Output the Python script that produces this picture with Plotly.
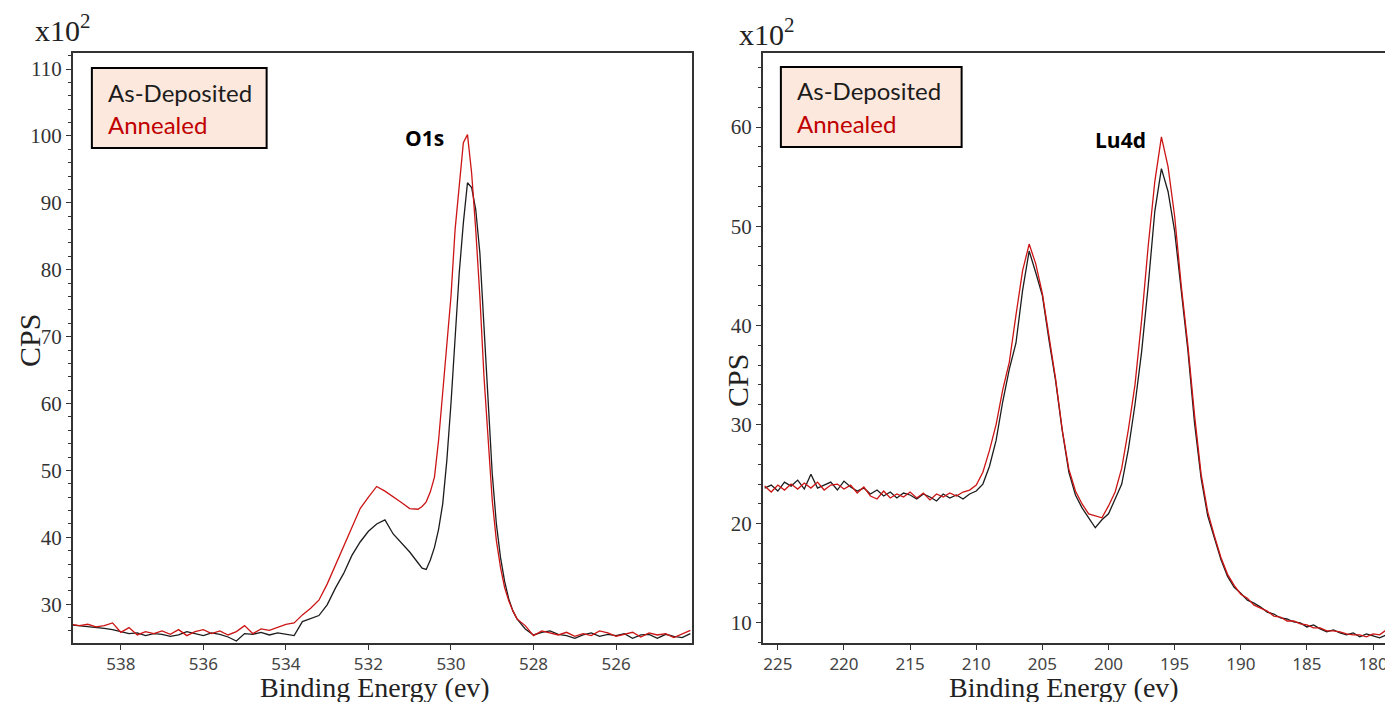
import plotly.graph_objects as go
from plotly.subplots import make_subplots

# the page body keeps an 8px margin, so the figure is a bit smaller than the window
OFF = 8
W, H = 1393 - OFF, 702 - OFF

# O1s region (binding energy, eV) and counts (x10^2 CPS)
o1s_be = [539.2, 539.0, 538.8, 538.6, 538.4, 538.2, 538.0, 537.8, 537.6, 537.4,
          537.2, 537.0, 536.8, 536.6, 536.4, 536.2, 536.0, 535.8, 535.6, 535.4,
          535.2, 535.0, 534.8, 534.6, 534.4, 534.2, 534.0, 533.8, 533.6, 533.4,
          533.2, 533.0, 532.8, 532.6, 532.4, 532.2, 532.0, 531.8, 531.6, 531.4,
          531.2, 531.0, 530.8, 530.7, 530.6, 530.5, 530.4, 530.3, 530.2, 530.1,
          530.0, 529.9, 529.8, 529.7, 529.6, 529.5, 529.4, 529.3, 529.2, 529.1,
          529.0, 528.9, 528.8, 528.7, 528.6, 528.5, 528.4, 528.2, 528.0, 527.8,
          527.6, 527.4, 527.2, 527.0, 526.8, 526.6, 526.4, 526.2, 526.0, 525.8,
          525.6, 525.4, 525.2, 525.0, 524.8, 524.6, 524.4, 524.2]

o1s_asdep = [26.9, 26.8, 26.7, 26.5, 26.4, 26.2, 25.9, 25.6, 25.7, 25.3,
             25.6, 25.5, 25.2, 25.4, 25.9, 25.6, 25.3, 25.7, 25.5, 25.1,
             24.5, 25.6, 25.5, 25.8, 25.4, 25.7, 25.5, 25.3, 27.4, 27.9,
             28.3, 29.9, 32.4, 34.6, 37.3, 39.3, 40.9, 42.0, 42.6, 40.5,
             39.2, 37.8, 36.2, 35.4, 35.2, 36.6, 38.5, 41.2, 45.0, 51.5,
             60.0, 69.5, 79.5, 87.0, 93.0, 92.3, 89.0, 82.5, 72.0, 60.0,
             49.5, 42.0, 37.0, 33.4, 30.8, 29.0, 27.8, 26.3, 25.4, 25.8,
             26.0, 25.5, 25.3, 24.9, 25.4, 25.7, 25.2, 25.5, 25.3, 25.6,
             24.9, 25.4, 25.5, 24.9, 25.5, 25.2, 25.0, 25.6]

o1s_anneal = [27.0, 26.8, 27.0, 26.6, 26.8, 27.2, 25.8, 26.5, 25.4, 25.9,
              25.6, 26.0, 25.5, 26.2, 25.3, 25.9, 26.2, 25.6, 26.0, 25.4,
              25.9, 26.8, 25.6, 26.3, 26.1, 26.6, 27.0, 27.2, 28.4, 29.4,
              30.6, 33.0, 35.8, 38.8, 41.5, 44.3, 46.0, 47.6, 46.9, 46.1,
              45.2, 44.3, 44.2, 44.6, 45.3, 46.8, 49.0, 54.5, 62.0, 69.0,
              76.0, 86.0, 93.0, 99.0, 100.2, 94.5, 86.0, 76.0, 64.0, 54.0,
              45.5, 39.5, 35.5, 32.5, 30.5, 29.0, 27.8, 26.8, 25.3, 26.0,
              25.7, 25.4, 25.8, 25.2, 25.6, 25.3, 26.0, 25.7, 25.2, 25.5,
              25.8, 25.1, 25.7, 25.4, 25.6, 25.0, 25.5, 26.1]

# Lu4d region, 0.5 eV steps from 226 down to 179
lu4d_be = [226.0 - 0.5 * i for i in range(95)]

lu4d_asdep = [23.6, 23.9, 23.3, 24.2, 23.8, 24.4, 23.5, 25.0, 23.6, 23.9,
              24.2, 23.4, 24.3, 23.7, 23.3, 23.6, 23.0, 23.4, 22.8, 23.2,
              22.6, 23.1, 22.9, 22.5, 23.0, 22.7, 22.3, 23.0, 22.6, 22.9,
              22.5, 23.0, 23.3, 24.0, 25.8, 28.4, 32.3, 35.6, 38.2, 43.5,
              47.5, 45.3, 43.0, 38.5, 34.4, 29.4, 25.2, 22.9, 21.6, 20.6,
              19.6, 20.4, 21.0, 22.5, 24.0, 27.5, 32.0, 37.3, 44.0, 51.5,
              55.8, 53.5, 49.5, 43.5, 37.5, 30.2, 24.6, 20.8, 18.6, 16.4,
              14.7, 13.6, 13.0, 12.3, 12.0, 11.6, 11.1, 10.9, 10.5, 10.4,
              10.1, 10.0, 9.6, 9.8, 9.4, 9.1, 9.3, 9.0, 8.8, 9.0,
              8.6, 8.9, 8.7, 8.5, 8.8]

lu4d_anneal = [23.8, 23.2, 23.9, 23.4, 24.0, 23.5, 24.1, 23.6, 24.2, 23.4,
               23.9, 24.0, 23.5, 23.9, 23.1, 23.7, 22.8, 22.5, 23.3, 22.6,
               23.0, 22.7, 23.2, 22.6, 23.1, 22.4, 23.0, 22.7, 23.1, 22.8,
               23.2, 23.4, 23.9, 25.2, 27.4, 30.0, 33.5, 36.3, 41.0, 45.5,
               48.2, 46.2, 43.2, 38.8, 34.6, 29.5, 25.5, 23.3, 22.0, 21.0,
               20.8, 20.6, 21.8, 23.2, 25.6, 29.5, 34.0, 40.5, 48.0, 54.5,
               59.0, 56.0, 51.0, 44.0, 38.0, 31.0, 25.0, 21.2, 18.8, 16.6,
               14.9, 13.8, 12.9, 12.5, 11.8, 11.5, 11.2, 10.7, 10.6, 10.2,
               10.2, 9.9, 9.8, 9.5, 9.5, 9.2, 9.2, 9.1, 8.9, 8.8,
               8.8, 8.6, 8.9, 8.8, 9.3]

BLACK = "#1c1c1c"
RED = "#cc1414"


# helpers: window pixel -> paper fraction
def px(x):
    return (x - OFF) / W


def py(y):
    return 1 - (y - OFF) / H


fig = make_subplots(rows=1, cols=2)

fig.add_trace(go.Scatter(x=o1s_be, y=o1s_asdep, mode="lines",
                         line=dict(color=BLACK, width=1.3)), row=1, col=1)
fig.add_trace(go.Scatter(x=o1s_be, y=o1s_anneal, mode="lines",
                         line=dict(color=RED, width=1.3)), row=1, col=1)
fig.add_trace(go.Scatter(x=lu4d_be, y=lu4d_asdep, mode="lines",
                         line=dict(color=BLACK, width=1.3)), row=1, col=2)
fig.add_trace(go.Scatter(x=lu4d_be, y=lu4d_anneal, mode="lines",
                         line=dict(color=RED, width=1.3)), row=1, col=2)

xdom = [[px(73), px(693)], [px(764), px(1388)]]
ydom = [py(643), py(53)]

axis_common = dict(showline=True, linecolor="#333", linewidth=2, mirror=True,
                   showgrid=False, zeroline=False, ticks="outside",
                   ticklen=5, tickcolor="#333")

fig.update_xaxes(**axis_common, range=[539.16, 524.16], dtick=2,
                 domain=xdom[0], row=1, col=1,
                 tickfont=dict(family="Noto Sans", size=17, color="#444"))
fig.update_xaxes(**axis_common, range=[226.13, 179.02], dtick=5,
                 domain=xdom[1], row=1, col=2,
                 tickfont=dict(family="Noto Sans", size=17, color="#444"))
fig.update_yaxes(**axis_common, range=[24.2, 112.4], dtick=10, domain=ydom,
                 minor=dict(dtick=2, ticks="outside", ticklen=3, tickcolor="#333"),
                 tickfont=dict(family="Liberation Serif", size=21, color="#333"),
                 row=1, col=1)
fig.update_yaxes(**axis_common, range=[7.98, 67.46], dtick=10, domain=ydom,
                 minor=dict(dtick=2, ticks="outside", ticklen=3, tickcolor="#333"),
                 tickfont=dict(family="Liberation Serif", size=21, color="#333"),
                 row=1, col=2)

# legend boxes drawn by hand
for (x0, y0, x1, y1) in [(92, 68, 267, 148), (782, 67, 963, 147)]:
    fig.add_shape(type="rect", xref="paper", yref="paper",
                  x0=px(x0), x1=px(x1), y0=py(y1), y1=py(y0),
                  fillcolor="#fce8dc", line=dict(color="black", width=2))

ann = []
for lx, ly in [(106, 92), (796, 91)]:
    ann.append(dict(x=px(lx), y=py(ly), text="As-Deposited", xanchor="left",
                    font=dict(family="Lato", size=24, color=BLACK)))
    ann.append(dict(x=px(lx), y=py(ly + 32), text="Annealed", xanchor="left",
                    font=dict(family="Lato", size=24, color="#c00000")))

for lx, ly, t in [(425, 138, "<b>O1s</b>"), (1122, 140, "<b>Lu4d</b>")]:
    ann.append(dict(x=px(lx), y=py(ly), text=t,
                    font=dict(family="Open Sans", size=21, color="black")))

for lx, ly in [(63, 28), (768, 32)]:
    ann.append(dict(x=px(lx), y=py(ly), text="x10<sup>2</sup>",
                    font=dict(family="Liberation Serif", size=30, color="#222")))

for lx, ly in [(30, 340), (738, 380)]:
    ann.append(dict(x=px(lx), y=py(ly), text="CPS", textangle=-90,
                    font=dict(family="Liberation Serif", size=30, color="#222")))

for lx in [376, 1066]:
    ann.append(dict(x=px(lx), y=py(687), text="Binding Energy (ev)",
                    font=dict(family="Liberation Serif", size=28, color="#222")))

for a in ann:
    a.update(xref="paper", yref="paper", showarrow=False)
    a.setdefault("xanchor", "center")
    a.setdefault("yanchor", "middle")

fig.update_layout(
    width=W, height=H,
    margin=dict(l=0, r=0, t=0, b=0),
    paper_bgcolor="white", plot_bgcolor="white",
    showlegend=False,
    annotations=ann,
)

fig.write_html("out.html")
